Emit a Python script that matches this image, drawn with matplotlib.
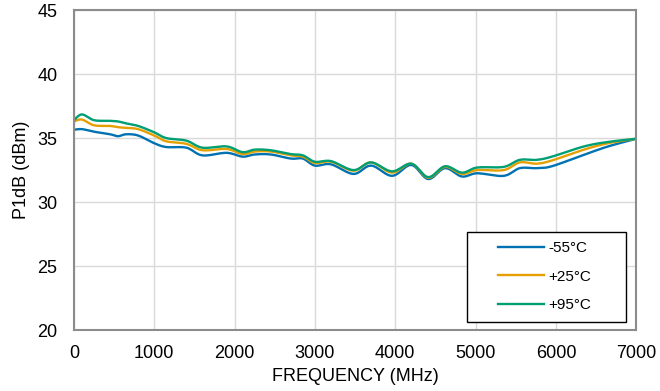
import numpy as np
import matplotlib
matplotlib.use("Agg")
import matplotlib.pyplot as plt
from matplotlib.patches import Rectangle

# frequency points (MHz) and P1dB readings (dBm) per temperature
freq = [0, 100, 250, 450, 550, 650, 800, 1000, 1150, 1400, 1600, 1900, 2100, 2250,
        2450, 2700, 2850, 3000, 3200, 3480, 3700, 3960, 4200, 4410, 4620, 4830,
        5020, 5350, 5550, 5760, 5950, 6350, 6650, 7000]

p1db_m55 = [35.65, 35.7, 35.5, 35.3, 35.15, 35.3, 35.2, 34.6, 34.3, 34.25, 33.65, 33.85,
            33.55, 33.72, 33.72, 33.4, 33.4, 32.85, 32.95, 32.2, 32.85, 32.05, 32.9,
            31.8, 32.65, 32.0, 32.25, 32.05, 32.65, 32.65, 32.8, 33.7, 34.35, 34.95]

p1db_p25 = [36.3, 36.45, 36.0, 35.95, 35.85, 35.8, 35.7, 35.2, 34.75, 34.55, 34.05, 34.15,
            33.75, 33.95, 33.95, 33.65, 33.55, 33.05, 33.15, 32.45, 33.1, 32.3, 33.0,
            31.9, 32.75, 32.2, 32.5, 32.5, 33.1, 33.0, 33.25, 34.1, 34.6, 34.95]

p1db_p95 = [36.4, 36.85, 36.4, 36.35, 36.3, 36.15, 35.95, 35.45, 35.0, 34.8, 34.25, 34.35,
            33.9, 34.1, 34.05, 33.75, 33.65, 33.15, 33.2, 32.5, 33.1, 32.4, 33.0,
            31.95, 32.8, 32.3, 32.7, 32.75, 33.3, 33.3, 33.55, 34.35, 34.7, 34.95]

labels = ['-55°C', '+25°C', '+95°C']
colors = ['#0072B2', '#E69F00', '#009E73']


def smooth(x, y, n=12):
    # Catmull-Rom curve through the points, like a smoothed line in a spreadsheet
    x = np.asarray(x, float)
    y = np.asarray(y, float)
    px = np.concatenate([[x[0]], x, [x[-1]]])
    py = np.concatenate([[y[0]], y, [y[-1]]])
    xs, ys = [], []
    t = np.linspace(0, 1, n, endpoint=False)
    for i in range(1, len(px) - 2):
        for p, out in ((px, xs), (py, ys)):
            p0, p1, p2, p3 = p[i - 1], p[i], p[i + 1], p[i + 2]
            out.extend(0.5 * (2 * p1 + (-p0 + p2) * t + (2 * p0 - 5 * p1 + 4 * p2 - p3) * t ** 2
                              + (-p0 + 3 * p1 - 3 * p2 + p3) * t ** 3))
    xs.append(x[-1])
    ys.append(y[-1])
    return xs, ys


plt.rcParams['font.family'] = ['Liberation Sans', 'DejaVu Sans']

fig = plt.figure(figsize=(6.6, 3.91), dpi=100)
ax = fig.add_axes([0.112, 0.156, 0.852, 0.818])

for vals, lab, col in zip([p1db_m55, p1db_p25, p1db_p95], labels, colors):
    sx, sy = smooth(freq, vals)
    ax.plot(sx, sy, color=col, lw=1.7, label=lab)

ax.set_xlim(0, 7000)
ax.set_ylim(20, 45)
ax.set_xticks(range(0, 7001, 1000))
ax.set_yticks(range(20, 46, 5))
ax.grid(True, color='#d9d9d9', lw=1)
ax.set_axisbelow(True)
ax.tick_params(axis='x', length=0, labelsize=13, pad=11)
ax.tick_params(axis='y', length=0, labelsize=13, pad=12)
for s in ax.spines.values():
    s.set_color('#8c8c8c')
    s.set_linewidth(1.5)

ax.set_xlabel('FREQUENCY (MHz)', fontsize=13, labelpad=4)
ax.set_ylabel('P1dB (dBm)', fontsize=13, labelpad=5)

# legend box drawn separately so the entries can sit inset like the original
ax.add_patch(Rectangle((0.699, 0.026), 0.283, 0.279, transform=ax.transAxes,
                       facecolor='white', edgecolor='black', lw=1, zorder=5))
leg = ax.legend(loc='upper left', bbox_to_anchor=(0.755, 0.278),
                fontsize=11, frameon=False, handlelength=3.0,
                handletextpad=0.25, labelspacing=0.95, borderaxespad=0,
                borderpad=0)
leg.set_zorder(6)

fig.savefig('out.png', dpi=100)
